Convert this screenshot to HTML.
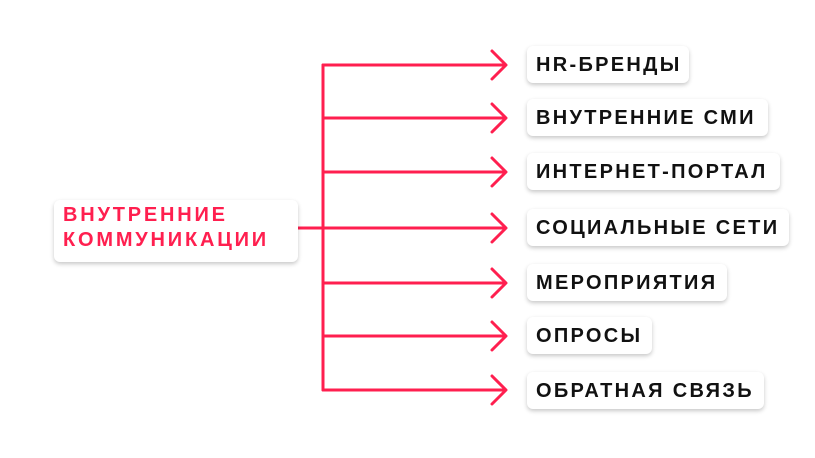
<!DOCTYPE html>
<html><head><meta charset="utf-8"><style>
body{margin:0;width:815px;height:458px;background:#fff;position:relative;overflow:hidden;font-family:"Liberation Sans",sans-serif;}
.b{position:absolute;background:#fff;border-radius:6px;box-shadow:0 2px 4px rgba(0,0,0,0.22);box-sizing:border-box;font-weight:bold;color:#111;font-size:20px;white-space:nowrap;letter-spacing:2.3px;padding-left:9px;height:37px;line-height:38px;}
.m{position:absolute;left:54px;top:200px;width:244px;height:62px;background:#fff;border-radius:6px;box-shadow:0 2px 4px rgba(0,0,0,0.22);color:#ff1f4f;font-weight:bold;font-size:20px;letter-spacing:2.8px;line-height:25px;padding:3px 0 0 9px;box-sizing:border-box;white-space:nowrap;}
</style></head><body>
<svg width="815" height="458" style="position:absolute;left:0;top:0">
<g stroke="#ff1f4f" stroke-width="3" fill="none" stroke-linecap="round" stroke-linejoin="round">
<line x1="323" y1="65" x2="323" y2="390"/>
<line x1="298" y1="228" x2="323" y2="228"/>
<line x1="323" y1="65" x2="505" y2="65"/><polyline points="492,51 506,65 492,79"/>
<line x1="323" y1="118" x2="505" y2="118"/><polyline points="492,104 506,118 492,132"/>
<line x1="323" y1="172" x2="505" y2="172"/><polyline points="492,158 506,172 492,186"/>
<line x1="323" y1="228" x2="505" y2="228"/><polyline points="492,214 506,228 492,242"/>
<line x1="323" y1="283" x2="505" y2="283"/><polyline points="492,269 506,283 492,297"/>
<line x1="323" y1="336" x2="505" y2="336"/><polyline points="492,322 506,336 492,350"/>
<line x1="323" y1="390" x2="505" y2="390"/><polyline points="492,376 506,390 492,404"/>
</g></svg>
<div class="m">ВНУТРЕННИЕ<br>КОММУНИКАЦИИ</div>
<div class="b" style="left:527px;top:46px;width:162px">HR-БРЕНДЫ</div>
<div class="b" style="left:527px;top:99px;width:241px">ВНУТРЕННИЕ СМИ</div>
<div class="b" style="left:527px;top:153px;width:253px">ИНТЕРНЕТ-ПОРТАЛ</div>
<div class="b" style="left:527px;top:209px;width:262px">СОЦИАЛЬНЫЕ СЕТИ</div>
<div class="b" style="left:527px;top:264px;width:200px">МЕРОПРИЯТИЯ</div>
<div class="b" style="left:527px;top:317px;width:125px">ОПРОСЫ</div>
<div class="b" style="left:527px;top:372px;width:237px">ОБРАТНАЯ СВЯЗЬ</div>
</body></html>
